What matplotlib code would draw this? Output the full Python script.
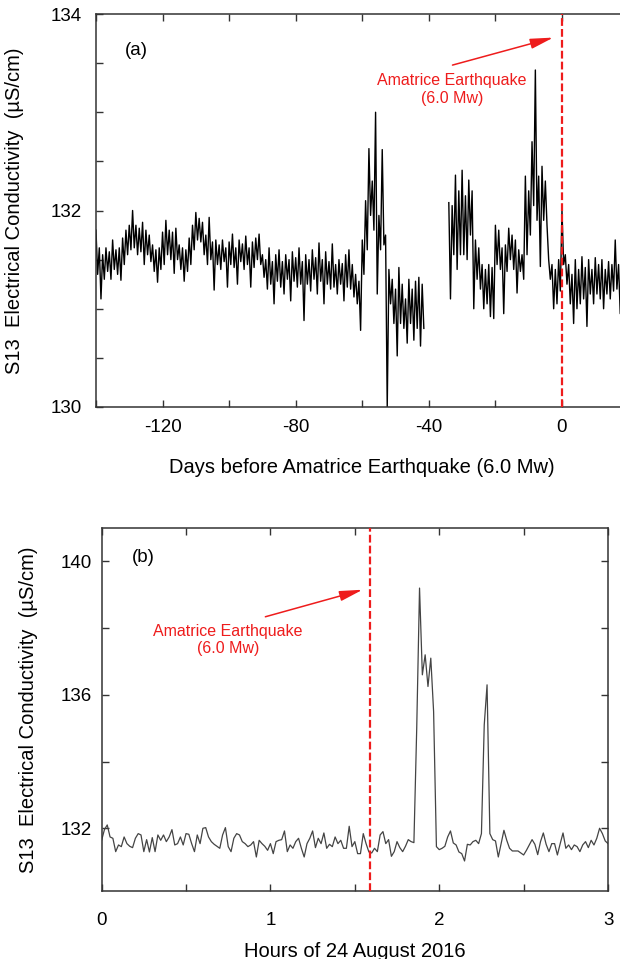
import numpy as np
import matplotlib
matplotlib.use("Agg")
import matplotlib.pyplot as plt
from matplotlib.ticker import FixedLocator, FuncFormatter

plt.rcParams['font.family'] = ['Liberation Sans', 'DejaVu Sans']

nan = float('nan')

# panel (a): daily high / low of the S13 conductivity, days -140 .. 19
days_a = list(range(-140, 20))
ec_hi = [131.80, 131.62, 131.55, 131.62, 131.58, 131.70, 131.60, 131.62, 131.72, 131.80,
         131.85, 132.00, 131.85, 131.82, 131.88, 131.80, 131.75, 131.65, 131.60, 131.62,
         131.78, 131.90, 131.80, 131.78, 131.82, 131.65, 131.62, 131.60, 131.72, 131.85,
         131.98, 131.92, 131.88, 131.75, 131.93, 131.68, 131.70, 131.65, 131.70, 131.62,
         131.68, 131.76, 131.62, 131.70, 131.66, 131.74, 131.62, 131.68, 131.72, 131.76,
         131.55, 131.50, 131.62, 131.48, 131.55, 131.60, 131.48, 131.55, 131.50, 131.58,
         131.52, 131.62, 131.48, 131.55, 131.50, 131.60, 131.52, 131.67, 131.50, 131.58,
         131.48, 131.66, 131.45, 131.50, 131.46, 131.55, 131.60, 131.45, 131.35, 131.28,
         131.70, 132.10, 132.63, 132.30, 133.00, 131.95, 132.62, 131.75, 131.40, 131.30,
         131.20, 131.42, 131.25, 131.10, 131.30, 131.20, 131.28, 131.32, 131.25,
         nan, nan, nan, nan, nan, nan, nan,
         132.08, 132.05, 132.36, 132.20, 132.41, 132.15, 132.31, 132.20, 131.70, 131.62,
         131.45, 131.40, 131.45, 131.42, 131.85, 131.80, 131.62, 131.65, 131.82, 131.75,
         131.70, 131.60, 131.55, 132.35, 132.20, 132.70, 133.43, 132.35, 132.45, 132.30,
         131.50, 131.45, 131.40, 131.50, 132.00, 131.55, 131.45, 131.35, 131.50, 131.40,
         131.53, 131.42, 131.50, 131.40, 131.52, 131.45, 131.50, 131.40, 131.48, 131.45,
         131.70, 131.45, 131.50, 131.42]
ec_lo = [131.35, 131.10, 131.30, 131.38, 131.30, 131.40, 131.35, 131.29, 131.45, 131.55,
         131.60, 131.62, 131.55, 131.58, 131.45, 131.55, 131.48, 131.38, 131.27, 131.40,
         131.45, 131.55, 131.50, 131.36, 131.50, 131.40, 131.28, 131.38, 131.45, 131.60,
         131.70, 131.68, 131.55, 131.45, 131.50, 131.19, 131.45, 131.40, 131.48, 131.22,
         131.45, 131.42, 131.25, 131.48, 131.40, 131.45, 131.22, 131.42, 131.50, 131.45,
         131.32, 131.20, 131.25, 131.05, 131.28, 131.22, 131.15, 131.30, 131.08, 131.28,
         131.22, 131.25, 130.88, 131.25, 131.18, 131.30, 131.15, 131.28, 131.05, 131.25,
         131.20, 131.22, 131.15, 131.25, 131.08, 131.22, 131.20, 131.12, 131.05, 130.78,
         131.35, 131.60, 131.95, 131.80, 131.15, 131.60, 131.65, 130.00, 131.05, 130.85,
         130.52, 130.85, 130.80, 130.65, 130.85, 130.68, 130.80, 130.62, 130.80,
         nan, nan, nan, nan, nan, nan, nan,
         131.10, 131.55, 131.40, 131.55, 131.55, 131.50, 131.75, 131.00, 131.30, 131.20,
         131.00, 131.05, 130.92, 130.90, 131.45, 131.40, 130.95, 131.38, 131.50, 131.40,
         131.16, 131.38, 131.30, 131.55, 131.75, 132.05, 131.90, 131.43, 131.90, 131.85,
         131.30, 131.00, 131.05, 131.18, 131.45, 131.25, 131.05, 130.85, 131.00, 131.05,
         131.10, 130.82, 131.15, 131.05, 131.15, 131.10, 131.00, 131.15, 131.10, 131.18,
         131.20, 130.95, 131.15, 131.10]

# panel (b): one reading per minute, 24 August 2016, 00:00 - 03:00
minutes_b = list(range(0, 181))
ec_b = [131.64, 131.96, 132.10, 131.74, 131.70, 131.30, 131.50, 131.45, 131.74, 131.54,
        131.46, 131.42, 131.70, 131.84, 131.80, 131.30, 131.66, 131.29, 131.72, 131.30,
        131.80, 131.64, 131.80, 131.60, 131.74, 131.96, 131.50, 131.54, 131.74, 131.50,
        131.84, 131.82, 131.54, 131.30, 131.80, 131.54, 132.00, 132.02, 131.74, 131.60,
        131.52, 131.46, 131.40, 131.80, 132.02, 131.45, 131.30, 131.70, 131.84, 131.80,
        131.60, 131.54, 131.45, 131.50, 131.60, 131.14, 131.64, 131.54, 131.46, 131.34,
        131.54, 131.24, 131.60, 131.64, 131.66, 131.92, 131.30, 131.50, 131.40, 131.60,
        131.70, 131.40, 131.14, 131.54, 131.70, 131.92, 131.42, 131.70, 131.54, 131.86,
        131.40, 131.52, 131.45, 131.74, 131.54, 131.64, 131.40, 131.40, 132.06, 131.45,
        131.60, 131.24, 131.24, 131.84, 131.54, 131.29, 131.26, 131.40, 131.30, 131.80,
        131.90, 131.54, 131.66, 131.16, 131.30, 131.60, 131.42, 131.30, 131.46, 131.66,
        131.60, 131.57, 135.00, 139.20, 136.60, 137.20, 136.25, 137.10, 135.50, 131.45,
        131.36, 131.40, 131.46, 131.74, 131.92, 131.56, 131.50, 131.29, 131.24, 131.02,
        131.52, 131.50, 131.60, 131.64, 131.54, 131.84, 135.10, 136.30, 131.84, 131.66,
        131.62, 131.14, 131.54, 131.94, 131.64, 131.40, 131.32, 131.32, 131.32, 131.26,
        131.20, 131.34, 131.50, 131.66, 131.52, 131.21, 131.60, 131.86, 131.52, 131.30,
        131.54, 131.54, 131.20, 131.54, 131.86, 131.40, 131.50, 131.36, 131.50, 131.45,
        131.30, 131.50, 131.60, 131.42, 131.64, 131.50, 131.70, 132.00, 131.84, 131.62,
        131.54]

quake_day = 0
quake_hour = 1.59

# zig-zag between the daily high and low
xa = []
ya = []
for d, h, l in zip(days_a, ec_hi, ec_lo):
    xa += [d, d + 0.5]
    ya += [h, l]
xb = np.array(minutes_b) / 60.0

fig = plt.figure(figsize=(6.2, 9.59), dpi=100)
ax1 = fig.add_axes([0.1548, 0.5756, 0.859, 0.4098])
ax2 = fig.add_axes([0.1639, 0.0709, 0.8168, 0.3785])

spine_col = '#333333'
red = '#ee1c1c'
lab_fs = 14.5
tick_fs = 13.5
note_fs = 11.5
arrow_style = '-|>,head_length=1.0,head_width=0.22'

# ---- (a)
ax1.plot(xa, ya, color='black', lw=1.0, zorder=2)
ax1.axvline(quake_day, color=red, lw=1.6, ls=(0, (3.5, 1.4)), zorder=3)
ax1.set_xlim(-140, 20)
ax1.set_ylim(130, 134)
ax1.xaxis.set_major_locator(FixedLocator(list(range(-140, 21, 20))))
ax1.xaxis.set_major_formatter(FuncFormatter(lambda v, p: '%d' % v if v % 40 == 0 and v > -140 else ''))
ax1.yaxis.set_major_locator(FixedLocator(list(np.arange(130, 134.01, 0.5))))
ax1.yaxis.set_major_formatter(FuncFormatter(lambda v, p: '%d' % v if abs(v - round(v)) < 1e-6 and round(v) % 2 == 0 else ''))
ax1.tick_params(axis='y', pad=10)
ax1.tick_params(axis='x', pad=9)
ax1.set_xlabel('Days before Amatrice Earthquake (6.0 Mw)', fontsize=lab_fs)
ax1.xaxis.set_label_coords(0.5, -0.13)
ax1.set_ylabel('S13  Electrical Conductivity  (\u00b5S/cm)', fontsize=lab_fs)
ax1.yaxis.set_label_coords(-0.135, 0.5)
ax1.text(-128, 133.63, '(a)', fontsize=13.5, ha='center', va='center')
ax1.annotate('', xy=(-2.6, 133.76), xytext=(-32.9, 133.48),
             arrowprops=dict(arrowstyle=arrow_style, color=red, lw=1.1,
                             mutation_scale=14, shrinkA=0, shrinkB=0))
ax1.text(-33.1, 133.23, 'Amatrice Earthquake\n(6.0 Mw)', color=red,
         fontsize=note_fs, ha='center', va='center', multialignment='center')

# ---- (b)
ax2.plot(xb, ec_b, color='#444444', lw=0.9, zorder=2)
ax2.axvline(quake_hour, color=red, lw=1.6, ls=(0, (3.5, 1.4)), zorder=3)
ax2.set_xlim(0, 3)
ax2.set_ylim(130.12, 141)
ax2.xaxis.set_major_locator(FixedLocator([0, 0.5, 1, 1.5, 2, 2.5, 3]))
ax2.xaxis.set_major_formatter(FuncFormatter(lambda v, p: '%d' % v if abs(v - round(v)) < 1e-6 else ''))
ax2.yaxis.set_major_locator(FixedLocator([132, 134, 136, 138, 140]))
ax2.yaxis.set_major_formatter(FuncFormatter(lambda v, p: '%d' % v if int(v) % 4 == 0 else ''))
ax2.tick_params(axis='y', pad=7)
ax2.tick_params(axis='x', pad=15)
ax2.set_xlabel('Hours of 24 August 2016', fontsize=lab_fs)
ax2.xaxis.set_label_coords(0.5, -0.14)
ax2.set_ylabel('S13  Electrical Conductivity  (\u00b5S/cm)', fontsize=lab_fs)
ax2.yaxis.set_label_coords(-0.125, 0.5)
ax2.text(0.246, 140.13, '(b)', fontsize=13.5, ha='center', va='center')
ax2.annotate('', xy=(1.546, 139.15), xytext=(0.97, 138.34),
             arrowprops=dict(arrowstyle=arrow_style, color=red, lw=1.1,
                             mutation_scale=14, shrinkA=0, shrinkB=0))
ax2.text(0.75, 137.65, 'Amatrice Earthquake\n(6.0 Mw)', color=red,
         fontsize=note_fs, ha='center', va='center', multialignment='center')

for ax in (ax1, ax2):
    for s in ax.spines.values():
        s.set_color(spine_col)
        s.set_linewidth(1.1)
    ax.tick_params(axis='both', which='both', direction='in', top=True, right=True,
                   length=5, width=1, colors=spine_col, labelcolor='black',
                   labelsize=tick_fs)

fig.savefig('out.png', dpi=100)
